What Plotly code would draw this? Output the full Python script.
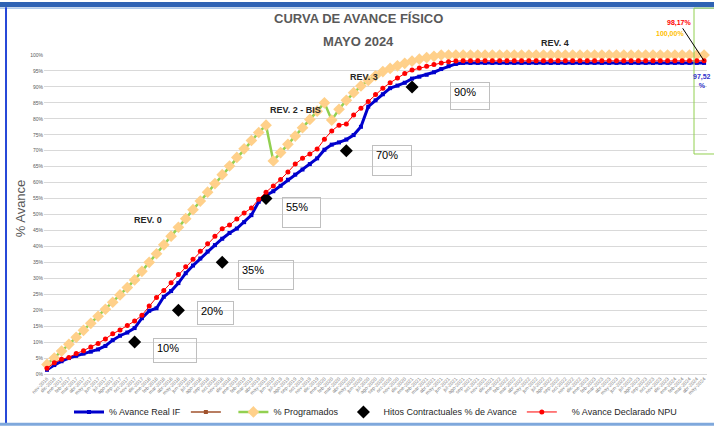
import plotly.graph_objects as go

# ---------------- data ----------------
meses_abr = ["ene", "feb", "mar", "abr", "may", "jun", "jul", "ago", "sep", "oct", "nov", "dic"]
meses = []
_y, _m = 2016, 11
for _ in range(91):
    meses.append(f"{meses_abr[_m - 1]}-{_y}")
    _m += 1
    if _m > 12:
        _m, _y = 1, _y + 1
idx = list(range(len(meses)))

avance_real = [
    1.3, 2.8, 4.0, 5.0, 5.7, 6.4, 7.0, 7.7, 8.8, 10.6,
    12.0, 13.0, 14.4, 17.5, 19.8, 20.6, 24.2, 26.0, 28.5, 31.6,
    34.0, 36.2, 38.4, 40.4, 42.4, 44.2, 45.6, 47.6, 49.8, 54.0,
    56.0, 57.3, 59.0, 60.9, 62.5, 64.1, 65.8, 67.6, 70.3, 71.9,
    72.6, 73.5, 74.9, 77.5, 83.8, 85.8, 87.7, 89.6, 90.4, 91.3,
    92.6, 93.2, 93.8, 94.6, 95.6, 96.5, 97.2, 97.52, 97.52, 97.52,
    97.52, 97.52, 97.52, 97.52, 97.52, 97.52, 97.52, 97.52, 97.52, 97.52,
    97.52, 97.52, 97.52, 97.52, 97.52, 97.52, 97.52, 97.52, 97.52, 97.52,
    97.52, 97.52, 97.52, 97.52, 97.52, 97.52, 97.52, 97.52, 97.52, 97.52,
    97.52,
]

programado = [
    3.0, 5.0, 7.2, 9.3, 11.5, 13.7, 15.9, 18.1, 20.3, 22.5,
    24.8, 27.1, 29.5, 32.2, 35.0, 37.7, 40.5, 43.2, 46.0, 48.7,
    51.5, 54.2, 57.0, 59.7, 62.5, 65.2, 67.9, 70.6, 73.2, 75.7,
    78.0, 66.8, 69.4, 72.0, 74.6, 77.2, 79.8, 82.4, 85.0, 79.6,
    83.0, 85.8, 88.2, 90.3, 92.0, 93.5, 94.8, 95.8, 96.6, 97.4,
    98.1, 98.7, 99.2, 99.6, 100.0, 100.0, 100.0, 100.0, 100.0, 100.0,
    100.0, 100.0, 100.0, 100.0, 100.0, 100.0, 100.0, 100.0, 100.0, 100.0,
    100.0, 100.0, 100.0, 100.0, 100.0, 100.0, 100.0, 100.0, 100.0, 100.0,
    100.0, 100.0, 100.0, 100.0, 100.0, 100.0, 100.0, 100.0, 100.0, 100.0,
    100.0,
]

avance_npu = [
    1.8, 3.5, 4.6, 5.2, 6.4, 7.3, 8.5, 9.6, 11.0, 12.6,
    13.8, 15.2, 16.6, 18.4, 21.3, 24.0, 26.2, 28.6, 31.2, 33.6,
    36.0, 38.5, 40.8, 43.2, 45.5, 46.7, 48.6, 50.5, 52.0, 54.8,
    57.0, 58.9, 61.0, 63.3, 65.8, 67.6, 69.0, 70.5, 73.6, 76.2,
    78.0, 78.4, 81.2, 83.3, 85.4, 87.6, 89.6, 91.3, 92.8, 94.2,
    95.3, 95.9, 96.5, 97.0, 97.5, 97.9, 98.1, 98.17, 98.17, 98.17,
    98.17, 98.17, 98.17, 98.17, 98.17, 98.17, 98.17, 98.17, 98.17, 98.17,
    98.17, 98.17, 98.17, 98.17, 98.17, 98.17, 98.17, 98.17, 98.17, 98.17,
    98.17, 98.17, 98.17, 98.17, 98.17, 98.17, 98.17, 98.17, 98.17, 98.17,
    98.17,
]

hitos_idx = [12, 18, 24, 30, 41, 50]
hitos_val = [10, 20, 35, 55, 70, 90]
hitos_txt = ["10%", "20%", "35%", "55%", "70%", "90%"]

rev_txt = ["REV. 0", "REV. 2 - BIS", "REV. 3"]
rev_pos = [(13.8, 48.3), (34.1, 82.8), (43.4, 93.1)]

FONT = "Liberation Sans, Arial, sans-serif"

# ---------------- figure ----------------
fig = go.Figure()
fig.add_trace(go.Scatter(
    x=idx, y=avance_real, name="% Avance Real IF", mode="lines+markers",
    line=dict(color="#0000CC", width=3), marker=dict(symbol="square", size=4, color="#0000CC"),
    cliponaxis=False))
fig.add_trace(go.Scatter(
    x=idx, y=[None] * len(idx), name=" ", mode="lines+markers",
    line=dict(color="#A0522D", width=1.5), marker=dict(symbol="square", size=4, color="#A0522D")))
fig.add_trace(go.Scatter(
    x=idx, y=programado, name="% Programados", mode="lines+markers",
    line=dict(color="#92D050", width=2.5), marker=dict(symbol="diamond", size=9, color="#FFD08A"),
    cliponaxis=False))
fig.add_trace(go.Scatter(
    x=hitos_idx, y=hitos_val, name="Hitos Contractuales % de Avance", mode="markers",
    marker=dict(symbol="diamond", size=10, color="#000000"), cliponaxis=False))
fig.add_trace(go.Scatter(
    x=idx, y=avance_npu, name="\u00a0" * 4 + "% Avance Declarado NPU", mode="lines+markers",
    line=dict(color="#FF0000", width=1), marker=dict(symbol="circle", size=5, color="#FF0000"),
    cliponaxis=False))

ann = []
# milestone boxes: (dx, dy_top, w, h)
box_geo = [(18, 4, 42, 23), (19, 9, 35, 22), (16, 2, 54, 28), (16, 2, 37, 29), (26, 6, 38, 29), (38, 5, 38, 26)]
for xi, yv, t, (dx, dy, w, h) in zip(hitos_idx, hitos_val, hitos_txt, box_geo):
    ann.append(dict(x=xi, y=yv, xref="x", yref="y", text=t, showarrow=False,
                    xanchor="left", yanchor="top", xshift=dx, yshift=dy,
                    width=w - 6, height=h - 6, align="left", valign="top", borderpad=3,
                    bordercolor="#BFBFBF", borderwidth=1, bgcolor="rgba(255,255,255,0)",
                    font=dict(family=FONT, size=11, color="#000000")))
for t, (xx, yy) in zip(rev_txt, rev_pos):
    ann.append(dict(x=xx, y=yy, xref="x", yref="y", text=f"<b>{t}</b>", showarrow=False,
                    font=dict(family=FONT, size=9, color="#262626")))
# REV. 4 sits above the plot area
ann.append(dict(x=69.6, y=1.0376, xref="x", yref="paper", xanchor="center", yanchor="middle",
                text="<b>REV. 4</b>", showarrow=False,
                font=dict(family=FONT, size=9, color="#262626")))

fmt = lambda v: f"{v:.2f}%".replace(".", ",")
ann.append(dict(x=idx[-1], y=avance_npu[-1], xref="x", yref="y", text=f"<b>{fmt(avance_npu[-1])}</b>",
                showarrow=True, arrowhead=0, arrowwidth=1, arrowcolor="#000000", ax=-25, ay=-38,
                font=dict(family=FONT, size=7, color="#FF0000")))
ann.append(dict(x=0.9442, y=1.0658, xref="paper", yref="paper", xanchor="center", yanchor="middle",
                text=f"<b>{fmt(programado[-1])}</b>",
                showarrow=False, font=dict(family=FONT, size=7, color="#FFC000")))
ann.append(dict(x=0.993, y=0.918, xref="paper", yref="paper", xanchor="center", yanchor="middle",
                text=f"<b>{fmt(avance_real[-1]).replace('%', '<br>%')}</b>", showarrow=False,
                font=dict(family=FONT, size=7, color="#3333CC")))

# titles
ann.append(dict(x=0.475, y=1.114, xref="paper", yref="paper", xanchor="center", yanchor="middle",
                text="<b>CURVA DE AVANCE FÍSICO</b>",
                showarrow=False, font=dict(family=FONT, size=13, color="#595959")))
ann.append(dict(x=0.474, y=1.041, xref="paper", yref="paper", xanchor="center", yanchor="middle",
                text="<b>MAYO 2024</b>",
                showarrow=False, font=dict(family=FONT, size=13, color="#595959")))
ann.append(dict(x=-0.036, y=0.52, xref="paper", yref="paper", xanchor="center", yanchor="middle",
                text="% Avance", textangle=-90,
                showarrow=False, font=dict(family=FONT, size=13, color="#595959")))

shapes = [
    # outer frame
    dict(type="rect", xref="paper", yref="paper", x0=-0.07, x1=1.02, y0=1.150, y1=1.166,
         fillcolor="#2E62B4", line=dict(width=0)),
    dict(type="line", xref="paper", yref="paper", x0=-0.07, x1=1.02, y0=1.146, y1=1.146,
         line=dict(color="#A9C6EA", width=1)),
    dict(type="rect", xref="paper", yref="paper", x0=-0.0588, x1=-0.0558, y0=-0.160, y1=1.150,
         fillcolor="#2648D8", line=dict(width=0)),
    dict(type="rect", xref="paper", yref="paper", x0=-0.07, x1=1.02, y0=-0.162, y1=-0.153,
         fillcolor="#7FA8DC", line=dict(width=0)),
    # green label box on the right
    dict(type="rect", xref="paper", yref="paper", x0=0.9804, x1=1.03, y0=0.6897, y1=1.147,
         line=dict(color="#92D050", width=1), fillcolor="rgba(0,0,0,0)"),
]

fig.update_layout(
    width=714, height=426, autosize=False,
    margin=dict(l=44, r=7, t=55, b=52, autoexpand=False),
    paper_bgcolor="white", plot_bgcolor="white",
    showlegend=True,
    legend=dict(orientation="h", x=0.5, xanchor="center", y=-0.119, yanchor="middle",
                font=dict(family=FONT, size=9, color="#262626"), bgcolor="rgba(0,0,0,0)",
                itemwidth=30, tracegroupgap=0),
    annotations=ann, shapes=shapes,
    xaxis=dict(range=[-0.41, 90.4], tickvals=idx, ticktext=meses, tickangle=-45,
               tickfont=dict(family=FONT, size=5, color="#808080"), automargin=False,
               showgrid=False, zeroline=False, showline=False, ticks=""),
    yaxis=dict(range=[0, 100], dtick=5, ticksuffix="%", gridcolor="#D9D9D9", gridwidth=1,
               zeroline=True, zerolinecolor="#D9D9D9", zerolinewidth=1, showline=False, automargin=False,
               tickfont=dict(family=FONT, size=5, color="#595959")),
)

fig.write_html("out.html", config={"displayModeBar": False},
               post_script="document.body.style.margin='0px';")
